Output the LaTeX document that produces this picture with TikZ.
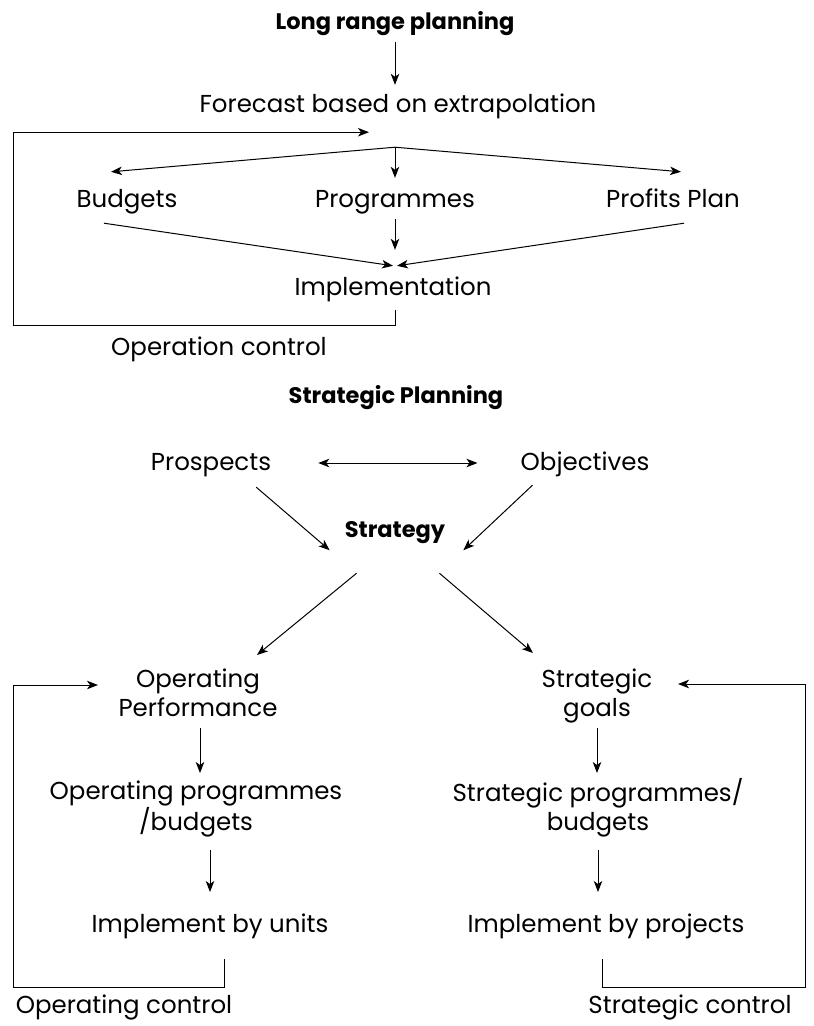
\documentclass[tikz,border=0pt]{standalone}
\usepackage{fontspec}
\setmainfont{Poppins}
\usepackage{tikz}
\usetikzlibrary{arrows.meta}

\begin{document}
\begin{tikzpicture}[x=1pt, y=-1pt, >={Stealth[length=11pt,width=8.5pt,inset=3pt]},
  txt/.style={font=\fontsize{24.5}{29}\selectfont, inner sep=0pt, align=center},
  one/.style={txt, text height=18pt, text depth=6pt},
  ttl/.style={font=\bfseries\fontsize{22.5}{27}\selectfont, inner sep=0pt, text height=16pt, text depth=5pt},
  arr/.style={->, line width=1pt}]
  \useasboundingbox (0,0) rectangle (814,1026);

  % long range planning
  \node[ttl, anchor=base] (lrp) at (395,29) {Long range planning};
  \node[one, anchor=base] (fc) at (398,112) {Forecast based on extrapolation};
  \node[one, anchor=base] (bud) at (127,207) {Budgets};
  \node[one, anchor=base] (prog) at (395,207) {Programmes};
  \node[one, anchor=base] (prof) at (673,207) {Profits Plan};
  \node[one, anchor=base] (impl) at (393,295) {Implementation};
  \node[one, anchor=base] (opc) at (219,355) {Operation control};

  \coordinate (split) at ([xshift=-3pt,yshift=-29pt]fc.south);
  \coordinate (merge) at ([xshift=2pt,yshift=11pt]impl.north);
  \coordinate (fctip) at ([xshift=-29pt,yshift=-14pt]fc.south);

  \draw[arr, shorten <=8pt, shorten >=9pt] (lrp.south) -- (lrp.south |- fc.north);
  \draw[arr] (split) -- ([xshift=-16pt,yshift=17pt]bud.north);
  \draw[arr, shorten >=11pt] (split) -- (prog.north);
  \draw[arr] (split) -- ([xshift=8pt,yshift=17pt]prof.north);
  \draw[arr] ([xshift=-23pt,yshift=-10pt]bud.south) -- ([xshift=-2pt]merge);
  \draw[arr, shorten <=6pt] (prog.south) -- ([yshift=16pt]merge);
  \draw[arr] ([xshift=11pt,yshift=-10pt]prof.south) -- ([xshift=2pt]merge);
  \draw[arr] ([xshift=2pt,yshift=-9pt]impl.south) -- ++(0,15) -| ([xshift=-356pt]fctip) -- (fctip);

  % strategic planning
  \node[ttl, anchor=base] (sp) at (396,403) {Strategic Planning};
  \node[one, anchor=base] (pros) at (211,470) {Prospects};
  \node[one, anchor=base] (obj) at (585,470) {Objectives};
  \node[ttl, anchor=base] (strat) at (395,537) {Strategy};
  \node[txt, anchor=base] (opperf) at (198,716) {Operating\\Performance};
  \node[txt, anchor=base] (sgoals) at (597,716) {Strategic\\goals};
  \node[txt, anchor=base] (opprog) at (196,830) {Operating programmes\\/budgets};
  \node[txt, anchor=base] (sprog) at (598,830) {Strategic programmes/\\budgets};
  \node[one, anchor=base] (iunits) at (210,932) {Implement by units};
  \node[one, anchor=base] (iproj) at (606,932) {Implement by projects};
  \node[one, anchor=base] (ocl) at (124,1013) {Operating control};
  \node[one, anchor=base] (scl) at (690,1013) {Strategic control};

  \coordinate (optip) at ([xshift=-100pt,yshift=31pt]opperf.base);
  \coordinate (sgtip) at ([xshift=81pt,yshift=32pt]sgoals.base);

  \draw[arr, <->, shorten <=47pt, shorten >=43pt] ([yshift=1pt]pros.east) -- ([yshift=1pt]obj.west);
  \draw[arr] ([xshift=-15pt,yshift=-11pt]pros.south east) -- ([xshift=-15pt,yshift=-8pt]strat.south west);
  \draw[arr] ([xshift=12pt,yshift=-9pt]obj.south west) -- ([xshift=18pt,yshift=-8pt]strat.south east);
  \draw[arr] ([xshift=12pt,yshift=-31pt]strat.south west) -- ([xshift=59pt,yshift=61pt]opperf.base);
  \draw[arr] ([xshift=-6pt,yshift=-31pt]strat.south east) -- ([xshift=-64pt,yshift=63pt]sgoals.base);
  \draw[arr] ([xshift=2pt,yshift=-12pt]opperf.base) -- ([xshift=4pt,yshift=57pt]opprog.base);
  \draw[arr] ([yshift=-12pt]sgoals.base) -- ([xshift=-1pt,yshift=57pt]sprog.base);
  \draw[arr] ([xshift=14pt,yshift=-20pt]opprog.base) -- ([yshift=40pt]iunits.base);
  \draw[arr] ([yshift=-20pt]sprog.base) -- ([xshift=-8pt,yshift=40pt]iproj.base);
  \draw[arr] ([xshift=14pt,yshift=-27pt]iunits.base) -- ++(0,28) -| ([xshift=-85pt]optip) -- (optip);
  \draw[arr] ([xshift=-4pt,yshift=-27pt]iproj.base) -- ++(0,28) -| ([xshift=127pt]sgtip) -- (sgtip);
\end{tikzpicture}
\end{document}
